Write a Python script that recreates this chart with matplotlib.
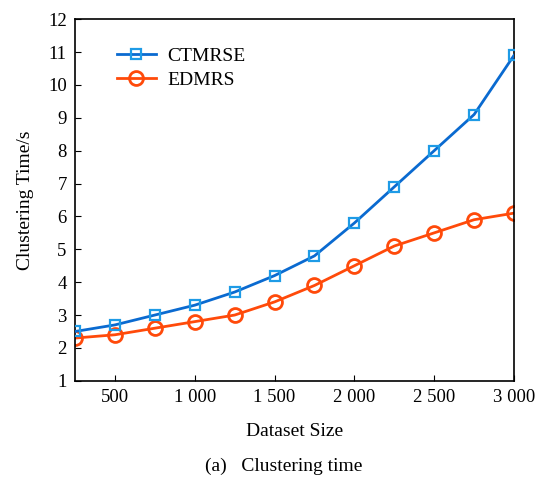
import matplotlib
matplotlib.use("Agg")
import matplotlib.pyplot as plt
from matplotlib.ticker import FuncFormatter

plt.rcParams['font.family'] = ['Liberation Serif', 'DejaVu Serif']

sizes = [250, 500, 750, 1000, 1250, 1500, 1750, 2000, 2250, 2500, 2750, 3000]
ctmrse = [2.5, 2.7, 3.0, 3.3, 3.7, 4.2, 4.8, 5.8, 6.9, 8.0, 9.1, 10.9]
edmrs = [2.3, 2.4, 2.6, 2.8, 3.0, 3.4, 3.9, 4.5, 5.1, 5.5, 5.9, 6.1]
xticks = [500, 1000, 1500, 2000, 2500, 3000]

fig = plt.figure(figsize=(5.36, 4.79), dpi=100)
ax = fig.add_axes([0.140, 0.205, 0.819, 0.755])

ax.plot(sizes, ctmrse, color='#0a6ad0', lw=2, marker='s', ms=7,
        mfc='none', mec='#1e9be6', mew=1.6, label='CTMRSE', zorder=3)
ax.plot(sizes, edmrs, color='#ff4a0a', lw=2, marker='o', ms=10,
        mfc='none', mec='#ff4a0a', mew=2, label='EDMRS', zorder=2)

ax.set_xlim(250, 3000)
ax.set_ylim(1, 12)
ax.set_xticks(xticks)
ax.set_yticks(range(1, 13))
ax.xaxis.set_major_formatter(FuncFormatter(lambda v, p: f"{int(v):,}".replace(",", " ")))
ax.tick_params(direction='in', length=4, labelsize=13.5, pad=6)
for s in ax.spines.values():
    s.set_linewidth(1.2)

ax.set_xlabel('Dataset Size', fontsize=14, labelpad=12)
ax.set_ylabel('Clustering Time/s', fontsize=14, labelpad=10)
ax.legend(loc='upper left', bbox_to_anchor=(0.055, 0.97), frameon=False,
          fontsize=14, handlelength=2.0, handletextpad=0.6, labelspacing=0.3)

fig.text(0.53, 0.017, '(a)   Clustering time', ha='center', fontsize=14)

fig.savefig('out.png', dpi=100)
